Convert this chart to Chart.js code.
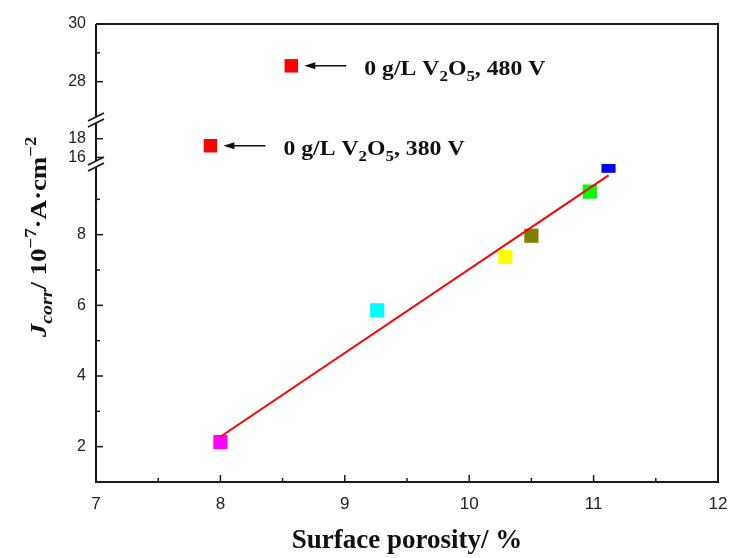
<!DOCTYPE html>
<html>
<head>
<meta charset="utf-8">
<script src="https://cdn.jsdelivr.net/npm/chart.js@4.4.1/dist/chart.umd.min.js"></script>
<style>
  html, body { margin: 0; padding: 0; background: #fff; }
  #wrap { width: 732px; height: 558px; }
</style>
</head>
<body>
<div id="wrap"><canvas id="chartPorosidad" width="732" height="558"></canvas></div>
<script>
// datos
const porosity = [8.0, 9.26, 10.29, 10.5, 10.97, 11.12];
const jcorr = [2.13, 5.86, 7.37, 7.97, 9.22, 9.95];
const pointColors = ['#ff00ff', '#00ffff', '#ffff00', '#808000', '#00ff00', '#0000ff'];

const fitX = [8.0, 11.12];
const fitY = [2.28, 9.68];

const refX = [7.92, 8.57];
const refY = [17.25, 28.55];
const refLabels = ['380 V', '480 V'];

const xTicks = [7, 7.5, 8, 8.5, 9, 9.5, 10, 10.5, 11, 11.5, 12];
const lowTicks = [2, 3, 4, 5, 6, 7, 8, 9];
const midTicks = [16, 17, 18, 19];
const topTicks = [28, 29, 30];

const canvas = document.getElementById('chartPorosidad');
const context = canvas.getContext('2d');

Chart.defaults.font.family = 'Liberation Sans';
Chart.defaults.color = '#222';

const setTicks = list => scale => { scale.ticks = list.map(v => ({ value: v })) };
const evenLabel = v => (v % 2 === 0 ? v : '');

const yBase = (min, max, weight, list) => ({
    type: 'linear',
    position: 'left',
    stack: 'y',
    stackWeight: weight,
    min: min,
    max: max,
    afterBuildTicks: setTicks(list),
    afterFit: s => { s.width = 96; s.paddingTop = 0; s.paddingBottom = 0 },
    ticks: { callback: evenLabel, padding: 10, font: { size: 16 }, color: '#222' },
    grid: { display: false, drawTicks: false },
    border: { display: false }
})

// marcos, ticks hacia adentro, cortes del eje y textos
const decoraciones = {
    id: 'decoraciones',
    beforeDatasetDraw(chart, args) {
        const ds = chart.data.datasets[args.index];
        const s = chart.scales[ds.yAxisID];
        const ctx = chart.ctx;
        ctx.save();
        ctx.beginPath();
        ctx.rect(chart.chartArea.left, s.top, chart.chartArea.right - chart.chartArea.left, s.bottom - s.top);
        ctx.clip();
    },
    afterDatasetDraw(chart) {
        chart.ctx.restore();
    },
    afterDraw(chart) {
        const ctx = chart.ctx;
        const a = chart.chartArea;
        const xs = chart.scales.x;
        ctx.save();
        ctx.strokeStyle = '#1a1a1a';
        ctx.lineWidth = 2;
        ctx.beginPath();
        ctx.moveTo(a.left - 1, a.bottom);
        ctx.lineTo(a.right, a.bottom);
        ctx.lineTo(a.right, a.top);
        ctx.lineTo(a.left, a.top);
        ctx.stroke();

        // eje y por segmentos
        const ids = ['yLow', 'yMid', 'yTop'];
        ids.forEach(id => {
            const s = chart.scales[id];
            ctx.beginPath();
            ctx.moveTo(a.left, s.bottom);
            ctx.lineTo(a.left, s.top);
            ctx.stroke();
            ctx.lineWidth = 1.5;
            s.ticks.forEach(t => {
                const y = s.getPixelForValue(t.value);
                const len = t.label !== '' ? 7 : 4;
                ctx.beginPath();
                ctx.moveTo(a.left, y);
                ctx.lineTo(a.left + len, y);
                ctx.stroke();
            });
            ctx.lineWidth = 2;
        });

        ctx.lineWidth = 1.5;
        xs.ticks.forEach(t => {
            const x = xs.getPixelForValue(t.value);
            const len = t.label !== '' ? 7 : 4;
            ctx.beginPath();
            ctx.moveTo(x, a.bottom);
            ctx.lineTo(x, a.bottom - len);
            ctx.stroke();
        });

        // cortes
        [chart.scales.yLow.top, chart.scales.yMid.top].forEach(yb => {
            ctx.fillStyle = '#fff';
            ctx.fillRect(a.left - 3, yb - 3, 6, 6);
            ctx.lineWidth = 1.6;
            [-3, 3].forEach(off => {
                ctx.beginPath();
                ctx.moveTo(a.left - 8, yb + off + 4);
                ctx.lineTo(a.left + 8, yb + off - 4);
                ctx.stroke();
            });
        });
        ctx.restore();

        // titulo eje y
        const partes = [
            { t: 'J', f: 'italic bold 23px "Liberation Serif"', dy: 0 },
            { t: 'corr', f: 'italic bold 17px "Liberation Serif"', dy: 6 },
            { t: '/ 10', f: 'bold 23px "Liberation Serif"', dy: 0 },
            { t: '\u22127', f: 'bold 16px "Liberation Serif"', dy: -10 },
            { t: '\u00b7A\u00b7cm', f: 'bold 23px "Liberation Serif"', dy: 0 },
            { t: '\u22122', f: 'bold 16px "Liberation Serif"', dy: -10 }
        ];
        dibujarPartes(ctx, partes, 46, 237, -Math.PI / 2, 'center', 1.17);

        // anotaciones con flecha
        refX.forEach((vx, i) => {
            const ys = i === 0 ? chart.scales.yMid : chart.scales.yTop;
            const px = xs.getPixelForValue(vx);
            const py = ys.getPixelForValue(refY[i]);
            ctx.save();
            ctx.strokeStyle = '#111';
            ctx.fillStyle = '#111';
            ctx.lineWidth = 1.5;
            ctx.beginPath();
            ctx.moveTo(px + 22, py);
            ctx.lineTo(px + 55, py);
            ctx.stroke();
            ctx.beginPath();
            ctx.moveTo(px + 13, py);
            ctx.lineTo(px + 24, py - 3.5);
            ctx.lineTo(px + 24, py + 3.5);
            ctx.closePath();
            ctx.fill();
            ctx.restore();
            const txt = [
                { t: '0 g/L V', f: 'bold 21px "Liberation Serif"', dy: 0 },
                { t: '2', f: 'bold 15px "Liberation Serif"', dy: 6 },
                { t: 'O', f: 'bold 21px "Liberation Serif"', dy: 0 },
                { t: '5', f: 'bold 15px "Liberation Serif"', dy: 6 },
                { t: ', ' + refLabels[i], f: 'bold 21px "Liberation Serif"', dy: 0 }
            ];
            dibujarPartes(ctx, txt, px + 73, py + 9, 0, 'left', 1.13);
        });
    }
}

function dibujarPartes(ctx, partes, x, y, rot, align, sx) {
    ctx.save();
    ctx.translate(x, y);
    ctx.rotate(rot);
    ctx.scale(sx, 1);
    ctx.fillStyle = '#111';
    ctx.textBaseline = 'alphabetic';
    let total = 0;
    partes.forEach(p => { ctx.font = p.f; total += ctx.measureText(p.t).width });
    let cx = align === 'left' ? 0 : -total / 2;
    partes.forEach(p => {
        ctx.font = p.f;
        ctx.fillText(p.t, cx, p.dy);
        cx += ctx.measureText(p.t).width;
    });
    ctx.restore();
}

const chartPorosidad = new Chart(context, {
    type: 'scatter',
    data: {
        datasets: [
            {
                type: 'line',
                label: 'ajuste',
                data: fitX.map((x, i) => ({ x: x, y: fitY[i] })),
                borderColor: '#ff0000',
                borderWidth: 2,
                pointRadius: 0,
                fill: false,
                yAxisID: 'yLow'
            },
            {
                label: 'muestras',
                data: porosity.map((x, i) => ({ x: x, y: jcorr[i] })),
                pointStyle: 'rect',
                pointRadius: 10,
                backgroundColor: pointColors,
                borderColor: pointColors,
                borderWidth: 0,
                yAxisID: 'yLow'
            },
            {
                label: '380 V',
                data: [{ x: refX[0], y: refY[0] }],
                pointStyle: 'rect',
                pointRadius: 9.5,
                backgroundColor: '#ff0000',
                borderWidth: 0,
                yAxisID: 'yMid'
            },
            {
                label: '480 V',
                data: [{ x: refX[1], y: refY[1] }],
                pointStyle: 'rect',
                pointRadius: 9.5,
                backgroundColor: '#ff0000',
                borderWidth: 0,
                yAxisID: 'yTop'
            }
        ]
    },
    options: {
        responsive: false,
        animation: false,
        layout: { padding: { left: 0, right: 14, top: 24, bottom: 0 } },
        plugins: { legend: { display: false }, tooltip: { enabled: false } },
        scales: {
            x: {
                type: 'linear',
                position: 'bottom',
                min: 7,
                max: 12,
                afterBuildTicks: setTicks(xTicks),
                afterFit: s => { s.height = 76; s.paddingLeft = 0; s.paddingRight = 0 },
                ticks: { callback: v => (v % 1 === 0 ? v : ''), padding: 12, font: { size: 17 }, color: '#222', maxRotation: 0 },
                grid: { display: false, drawTicks: false },
                border: { display: false },
                title: {
                    display: true,
                    text: 'Surface porosity/ %',
                    color: '#111',
                    font: { family: 'Liberation Serif', weight: 'bold', size: 27 },
                    padding: { top: 0, bottom: 1 }
                }
            },
            yLow: yBase(1, 10, 318, lowTicks),
            yMid: yBase(15.3, 20, 44, midTicks),
            yTop: yBase(26.67, 30, 96, topTicks)
        }
    },
    plugins: [decoraciones]
})
</script>
</body>
</html>
